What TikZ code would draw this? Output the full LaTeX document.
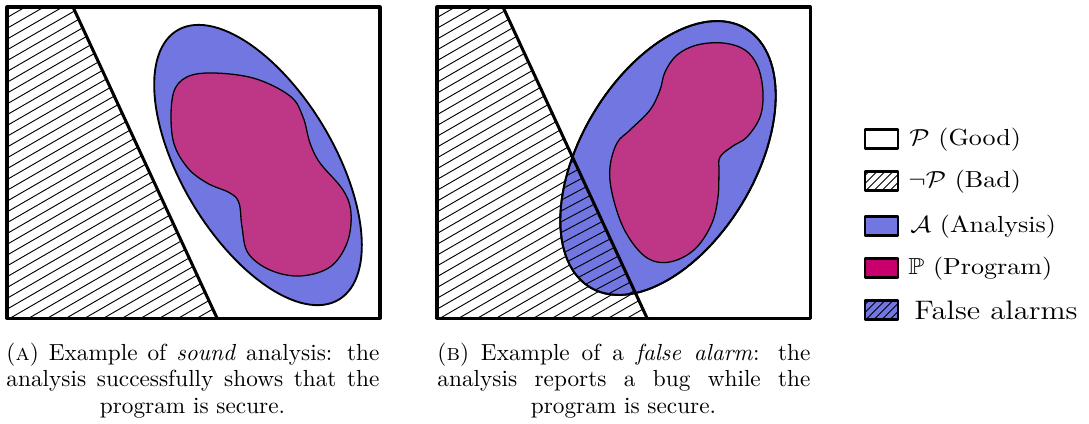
\documentclass[tikz,border=0pt]{standalone}
\usepackage{amssymb}
\definecolor{anblue}{RGB}{114,118,224}
\definecolor{blobmag}{RGB}{190,55,135}
\definecolor{progmag}{RGB}{200,0,110}
\begin{document}
\begin{tikzpicture}[x=0.43pt,y=-0.43pt,line join=round]
\useasboundingbox (0,0) rectangle (1089,423);
\tikzset{
  frame/.style={line width=1.3pt},
  badline/.style={line width=1.3pt},
  hatchline/.style={line width=0.4pt},
  ellfill/.style={fill=anblue,draw=black,line width=0.8pt},
  blobfill/.style={fill=blobmag,draw=black,line width=0.55pt},
  legbox/.style={draw=black,line width=1.1pt},
  legtext/.style={anchor=west,inner sep=0pt,font=\fontsize{10}{12}\selectfont},
  captext/.style={inner sep=0pt,font=\fontsize{10}{12}\selectfont},
}
\def\ellA{plot[domain=0:360,samples=120,variable=\t]
  ({258+157*cos(\t)*cos(59)-76*sin(\t)*sin(59)},{165+157*cos(\t)*sin(59)+76*sin(\t)*cos(59)}) -- cycle}
\def\ellB{plot[domain=0:360,samples=120,variable=\t]
  ({668+151*cos(\t)*cos(-59)-87*sin(\t)*sin(-59)},{158+151*cos(\t)*sin(-59)+87*sin(\t)*cos(-59)}) -- cycle}

% ---------- Panel A ----------
\coordinate (At) at (73,7);
\coordinate (Ab) at (217,318);
\fill[white] (7,7) rectangle (380,318);
\begin{scope}
  \clip (7,7) -- (At) -- (Ab) -- (7,318) -- cycle;
  \foreach \c in {0,10.8,...,470} \draw[hatchline] (0,\c) -- (400,\c-231);
\end{scope}
\draw[ellfill] \ellA;
\draw[blobfill] plot[smooth cycle,tension=0.6] coordinates {
  (172,100) (182,80) (207,73) (253,78) (290,96) (303,117) (310,143) (320,163)
  (343,190) (351,213) (347,243) (330,267) (300,276) (270,270) (248,253)
  (242,227) (239,203) (230,193) (207,183) (187,167) (173,140)};
\draw[badline] (At) -- (Ab);
\draw[frame] (7,7) rectangle (380,318);

% ---------- Panel B ----------
\coordinate (Bt) at (503,7);
\coordinate (Bb) at (647,318);
\fill[white] (437,7) rectangle (810,318);
\begin{scope}
  \clip (437,7) -- (Bt) -- (Bb) -- (437,318) -- cycle;
  \foreach \c in {0,10.8,...,470} \draw[hatchline] (430,\c) -- (830,\c-231);
\end{scope}
\draw[ellfill] \ellB;
\draw[blobfill] plot[smooth cycle,tension=0.6] coordinates {
  (720,157) (733,146) (747,137) (760,117) (763,93) (758,67) (745,50) (723,43)
  (697,45) (677,55) (665,72) (660,90) (650,110) (630,130) (617,143) (610,167)
  (612,193) (623,227) (640,252) (657,262) (677,260) (697,247) (712,223)
  (718,197) (719,172)};
\begin{scope}
  \clip \ellB;
  \clip (437,7) -- (Bt) -- (Bb) -- (437,318) -- cycle;
  \foreach \c in {0,10.8,...,620} \draw[hatchline] (430,\c) -- (830,\c-213);
\end{scope}
\draw[black,line width=0.8pt] \ellB;
\draw[badline] (Bt) -- (Bb);
\draw[frame] (437,7) rectangle (810,318);

% ---------- Legend ----------
\draw[legbox,fill=white] (865,129.5) rectangle (898,148.5);
\fill[white] (865,171.5) rectangle (898,190.5);
\begin{scope}
  \clip (865,171.5) rectangle (898,190.5);
  \foreach \s in {850,858,...,906} \draw[hatchline] (\s,190.5) -- (\s+19,171.5);
\end{scope}
\draw[legbox] (865,171.5) rectangle (898,190.5);
\draw[legbox,fill=anblue] (865,216.5) rectangle (898,235.5);
\draw[legbox,fill=progmag] (865,258.5) rectangle (898,277.5);
\fill[anblue] (865,300.5) rectangle (898,319.5);
\begin{scope}
  \clip (865,300.5) rectangle (898,319.5);
  \foreach \s in {850,858,...,906} \draw[hatchline] (\s,319.5) -- (\s+19,300.5);
\end{scope}
\draw[legbox] (865,300.5) rectangle (898,319.5);

\node[legtext] (lg1) at (909,139.5) {\scalebox{1.12}[1]{$\mathcal{P}$ (Good)}};
\node[legtext] (lg2) at (908,181.5) {\scalebox{1.12}[1]{$\neg\mathcal{P}$ (Bad)}};
\node[legtext] (lg3) at (910,226.5) {\scalebox{1.12}[1]{$\mathcal{A}$ (Analysis)}};
\node[legtext] (lg4) at (908,268.5) {\scalebox{1.12}[1]{$\mathbb{P}$ (Program)}};
\node[legtext,font=\fontsize{11.5}{14}\selectfont] (lg5) at (914,310.5) {\scalebox{1.15}[1]{False alarms}};

% ---------- Captions ----------
\node[captext,anchor=base west] (cA1) at (6,360) {\makebox[160.4pt][s]{(\textsc{a}) Example of \emph{sound} analysis: the}};
\node[captext,anchor=base west] (cA2) at (6,386.5) {\makebox[160.4pt][s]{analysis successfully shows that the}};
\node[captext,anchor=base] (cA3) at (192.5,413) {program is secure.};
\node[captext,anchor=base west] (cB1) at (437,360) {\makebox[160.4pt][s]{(\textsc{b}) Example of a \emph{false alarm}: the}};
\node[captext,anchor=base west] (cB2) at (437,386.5) {\makebox[160.4pt][s]{analysis reports a bug while the}};
\node[captext,anchor=base] (cB3) at (623.5,413) {program is secure.};
\end{tikzpicture}
\end{document}
